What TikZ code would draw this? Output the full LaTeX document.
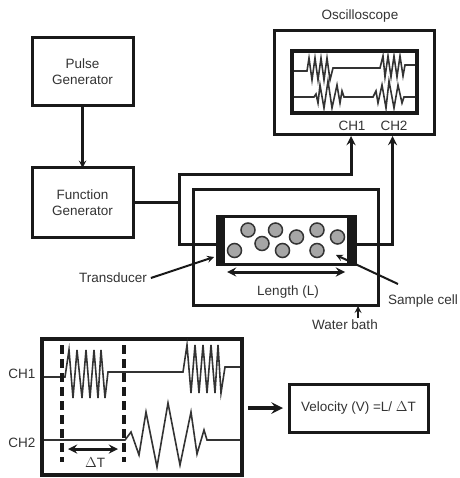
\documentclass[tikz,border=0pt]{standalone}
\usepackage{fontspec}
\setmainfont{Liberation Sans}
\usetikzlibrary{arrows,positioning,calc}
\tikzstyle{box} = [draw=black!90, line width=3pt, outer sep=0pt, inner sep=0pt, align=center, text=black!80]
\tikzstyle{screen} = [box, line width=4pt]
\tikzstyle{lbl} = [font=\fontsize{13.5}{16}\selectfont, text=black!80, inner sep=0pt, outer sep=0pt]
\tikzstyle{bead} = [circle, draw=black!80, line width=1.5pt, fill=black!35, minimum size=14pt, inner sep=0pt]
\tikzstyle{slab} = [fill=black!90, draw=none, outer sep=0pt, inner sep=0pt, minimum width=8pt, minimum height=48pt]
\tikzstyle{wire} = [draw=black!90, line width=3pt]
\tikzstyle{arrow} = [draw=black!90, line width=3pt, -stealth]
\tikzstyle{pointer} = [draw=black!90, line width=2pt, -stealth]
\tikzstyle{trace} = [draw=black!80, line width=1.6pt]
\begin{document}
\begin{tikzpicture}[x=1pt,y=-1pt]
\useasboundingbox (0,0) rectangle (459,478);

% PULSE GENERATOR
\node[box, minimum width=101pt, minimum height=68pt, lbl] (pulse) at (82.5,72) {Pulse\\Generator};

% FUNCTION GENERATOR
\node[box, minimum width=101pt, minimum height=69pt, lbl] (func) at (82.5,202.5) {Function\\Generator};
\draw[arrow, line width=2.2pt] (pulse) -- (func);

% OSCILLOSCOPE
\node[box, minimum width=160pt, minimum height=104pt] (osc) at (354,83) {};
\node[screen, minimum width=125pt, minimum height=62pt] (oscscreen) at (354.5,82) {};
\node[lbl] (osctitle) at (360,16) {Oscilloscope};
\node[lbl] (och1) at (352,126) {CH1};
\node[lbl] (och2) at (394,126) {CH2};

% screen traces
\draw[trace] (294,71) -- (307,71) -- (309,58) -- (312,80) -- (315,58) -- (318,80) -- (321,58) -- (324,80) -- (327,58) -- (330,80) -- (333,68) -- (380,68) -- (383,56) -- (385,77) -- (388,56) -- (391,77) -- (394,56) -- (397,77) -- (400,56) -- (403,76) -- (405,65) -- (415,65);
\draw[trace] (294,97) -- (314,97) -- (316,94) -- (318,103) -- (320,85) -- (324,108) -- (328,81) -- (332,108) -- (337,85) -- (340,103) -- (342,91) -- (344,97) -- (373,97) -- (376,91) -- (378,103) -- (382,85) -- (386,108) -- (389,81) -- (394,108) -- (398,85) -- (402,103) -- (404,97) -- (415,97);

% WATER BATH
\node[box, minimum width=185pt, minimum height=116pt] (bath) at (285.5,247) {};
\node[lbl] (bathlbl) at (345,325) {Water bath};
\coordinate (bathtip) at (358,306);
\draw[pointer] (358,318) -- (bathtip);

% SAMPLE CELL
\node[box, minimum width=138pt, minimum height=48pt] (cell) at (286,240) {};
\node[slab] (tleft) at (221,240) {};
\node[slab] (tright) at (351,240) {};
\node[bead] (b1) at (248,230) {};
\node[bead] (b2) at (275.5,230) {};
\node[bead] (b3) at (296.5,237) {};
\node[bead] (b4) at (317,230) {};
\node[bead] (b5) at (337.5,237) {};
\node[bead] (b6) at (262,243.5) {};
\node[bead] (b7) at (234.5,250.5) {};
\node[bead] (b8) at (282.5,250.5) {};
\node[bead] (b9) at (317,250.5) {};

% wires
\coordinate (jleft) at (179,244);
\coordinate (jtop) at (179,175);
\coordinate (jright) at (392.5,244);
\coordinate (ch1in) at (351,136);
\coordinate (ch2in) at (392.5,136);
\draw[wire] (func.east) -- (func.east -| jleft);
\draw[arrow] (tleft.west |- jleft) -- (jleft) -- (jtop) -| (ch1in);
\draw[arrow] (tright.east |- jright) -- (jright) -- (ch2in);

% LENGTH
\coordinate (lena) at (227,272);
\coordinate (lenb) at (345,272);
\draw[arrow, stealth-stealth] (lena) -- (lenb);
\node[lbl] (lenlbl) at (288,292) {Length (L)};

% callouts
\node[lbl] (translbl) at (113,278) {Transducer};
\coordinate (transtip) at (214,257);
\draw[pointer] (translbl.east) ++(4,0) -- (transtip);
\node[lbl] (celllbl) at (423,301) {Sample cell};
\coordinate (cellfrom) at (398,284);
\coordinate (celltip) at (336,255);
\draw[pointer] (cellfrom) -- (celltip);

% LOWER SCREEN
\node[screen, minimum width=200pt, minimum height=136pt] (trace) at (142,407) {};
\node[lbl] (lch1) at (22,374) {CH1};
\node[lbl] (lch2) at (22,443) {CH2};
\draw[trace] (44,377) -- (65,377) -- (69,350) -- (73,398) -- (77,350) -- (82,398) -- (86,350) -- (90,398) -- (94,350) -- (98,398) -- (101,350) -- (105,398) -- (108,372) -- (183,372) -- (187,345) -- (191,393) -- (195,345) -- (199,393) -- (203,345) -- (207,393) -- (211,345) -- (215,393) -- (218,345) -- (221,393) -- (225,367) -- (240,367);
\draw[trace] (44,440) -- (125,440) -- (131,432) -- (139,455) -- (146,412) -- (157,467) -- (168,403) -- (180,465) -- (191,412) -- (197,454) -- (204,430) -- (207,440) -- (240,440);
\coordinate (tstarta) at (62,345);
\coordinate (tstartb) at (62,462);
\coordinate (tenda) at (124,345);
\coordinate (tendb) at (124,462);
\draw[line width=3.5pt, black!90, dash pattern=on 9pt off 5pt] (tstarta) -- (tstartb);
\draw[line width=3.5pt, black!90, dash pattern=on 9pt off 5pt] (tenda) -- (tendb);

% DELTA T
\coordinate (dta) at (68,449);
\coordinate (dtb) at (118,449);
\draw[arrow, stealth-stealth] (dta) -- (dtb);
\node[lbl] (dtlbl) at (95,463) {$\Delta$T};

% VELOCITY
\node[box, minimum width=139pt, minimum height=48pt, lbl] (vel) at (358.5,408) {Velocity (V) =L/ $\Delta$T};
\coordinate (velfrom) at (248,408);
\draw[arrow, line width=4pt] (velfrom) -- (283,408);
\end{tikzpicture}
\end{document}
